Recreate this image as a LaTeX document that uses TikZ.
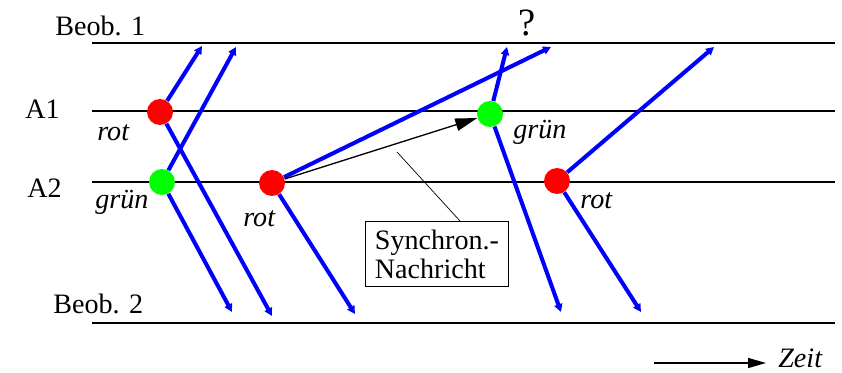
\documentclass[tikz,border=0pt]{standalone}
\usepackage{fontspec}
\setmainfont{Liberation Serif}
\usetikzlibrary{arrows.meta}
\tikzset{
  lbl/.style={inner sep=0pt, anchor=base west, font=\fontsize{16}{16}\selectfont},
  col/.style={lbl, font=\fontsize{16}{16}\selectfont\itshape},
  obs/.style={line width=0.75pt},
  ray/.style={blue, line width=2.3pt, -{Triangle[length=4.5pt,width=4.6pt]}},
  dot/.style={circle, inner sep=0pt, minimum size=0.52cm}}

\begin{document}
\begin{tikzpicture}[x=0.02cm, y=-0.02cm]
  \useasboundingbox (0,0) rectangle (842,372);
    % Zeitlinien
    \coordinate (o1a) at (92,43);  \coordinate (o1b) at (835,43);
    \coordinate (a1a) at (92,111); \coordinate (a1b) at (835,111);
    \coordinate (a2a) at (92,182); \coordinate (a2b) at (835,182);
    \coordinate (o2a) at (92,323); \coordinate (o2b) at (835,323);
    \draw [obs] (o1a) -- (o1b);
    \draw [obs] (a1a) -- (a1b);
    \draw [obs] (a2a) -- (a2b);
    \draw [obs] (o2a) -- (o2b);
    \node [lbl] (beob1) at (55,35) {Beob. 1};
    \node [lbl] (beob2) at (53,313) {Beob. 2};
    \node [lbl] (la1) at (25,118) {A1};
    \node [lbl] (la2) at (27,197) {A2};
    % Ampeln
    \node [dot, fill=red] (r1) at (160,112) {};
    \node [dot, fill=green] (g1) at (162,182) {};
    \node [dot, fill=red] (r2) at (272,183) {};
    \node [dot, fill=green] (g2) at (490,114) {};
    \node [dot, fill=red] (r3) at (557,181) {};
    % Signale
    \coordinate (r1u) at (202,46);  \coordinate (r1d) at (272,316);
    \coordinate (g1u) at (236,47);  \coordinate (g1d) at (232,312);
    \coordinate (r2u) at (551,47);  \coordinate (r2d) at (355,314);
    \coordinate (g2u) at (507,47);  \coordinate (g2d) at (561,312);
    \coordinate (r3u) at (714,47);  \coordinate (r3d) at (641,312);
    \draw [ray] (r1) -- (r1u); \draw [ray] (r1) -- (r1d);
    \draw [ray] (g1) -- (g1u); \draw [ray] (g1) -- (g1d);
    \draw [ray] (r2) -- (r2u); \draw [ray] (r2) -- (r2d);
    \draw [ray] (g2) -- (g2u); \draw [ray] (g2) -- (g2d);
    \draw [ray] (r3) -- (r3u); \draw [ray] (r3) -- (r3d);
    \node [col] (c1) at (97,140) {rot};
    \node [col] (c2) at (95,208) {grün};
    \node [col] (c3) at (243,226) {rot};
    \node [col] (c4) at (513,138) {grün};
    \node [col] (c5) at (580,208) {rot};
    \node [lbl, font=\fontsize{22}{22}\selectfont] (q) at (518,35) {?};
    % Synchronisation
    \draw [line width=0.75pt, -{Triangle[length=0.44cm,width=0.25cm]}] (r2) -- (g2);
    \node [draw, line width=0.75pt, align=left, inner xsep=0.19cm, inner ysep=0.16cm,
      font=\fontsize{16}{16.5}\selectfont] (box) at (437,254) {Synchron.-\\Nachricht};
    \coordinate (lead) at (397,152);
    \draw [line width=0.4pt] (lead) -- ([xshift=0.46cm]box.north);
    % Zeitachse
    \node [col] (zeit) at (778,367) {Zeit};
    \coordinate (z0) at (654,363);
    \coordinate (z1) at (766,363);
    \draw [line width=0.75pt, -{Triangle[length=0.36cm,width=0.2cm]}] (z0) -- (z1);
\end{tikzpicture}
\end{document}
